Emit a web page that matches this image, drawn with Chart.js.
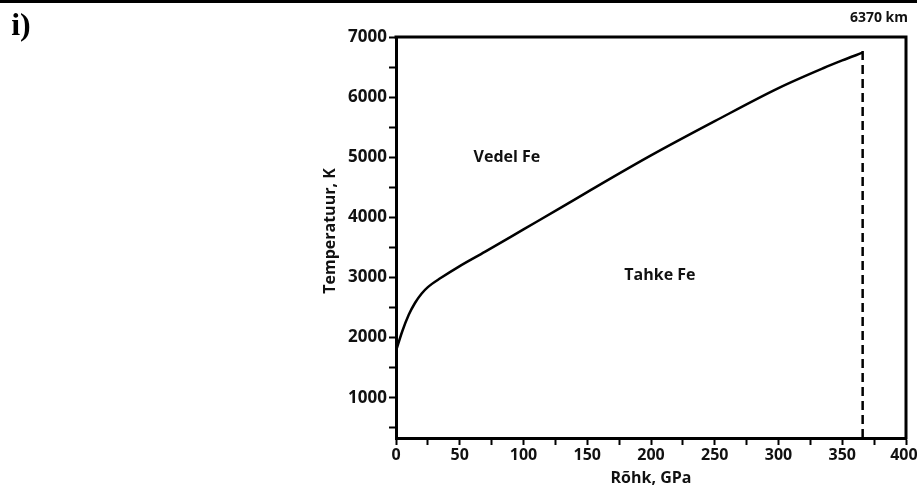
<!DOCTYPE html>
<html>
<head>
<meta charset="utf-8">
<script src="https://cdn.jsdelivr.net/npm/chart.js@4/dist/chart.umd.min.js"></script>
<style>
    html, body { margin: 0; padding: 0; background: #fff; }
    #wrap { width: 917px; height: 495px; }
</style>
</head>
<body>
<div id="wrap"><canvas id="meltChart" width="917" height="495"></canvas></div>
<script>
// melting curve of iron
const pressure = [0, 5, 10, 15, 20, 25, 35, 50, 70, 100, 130, 150, 200, 250, 300, 335, 350, 366];
const temperature = [1780, 2110, 2380, 2580, 2730, 2840, 2990, 3190, 3430, 3800, 4170, 4420, 5030, 5600, 6150, 6480, 6610, 6740];
const coreX = [366, 366];
const coreY = [330, 6850];
const xTicks = [0, 25, 50, 75, 100, 125, 150, 175, 200, 225, 250, 275, 300, 325, 350, 375, 400];
const yTicks = [500, 1000, 1500, 2000, 2500, 3000, 3500, 4000, 4500, 5000, 5500, 6000, 6500, 7000];
const xTitle = "Rõhk, GPa";
const yTitle = "Temperatuur, K";
const phases = [
    { text: "Vedel Fe", x: 87, y: 4990 },
    { text: "Tahke Fe", x: 207, y: 3030 },
];
const depthLabel = "6370 km";
const panelLabel = "i)";

const ink = "#111";
const bold = "'Open Sans', sans-serif";

const extras = {
    id: "extras",
    afterDraw(chart) {
        const ctx = chart.ctx;
        const { top, right, left, bottom } = chart.chartArea;
        const xs = chart.scales.x;
        const ys = chart.scales.y;
        ctx.save();
        // rule across the top of the page
        ctx.fillStyle = "#000";
        ctx.fillRect(0, 0, 917, 3);
        // box: top and right side
        ctx.strokeStyle = "#000";
        ctx.lineWidth = 3;
        ctx.beginPath();
        ctx.moveTo(left - 1.5, top);
        ctx.lineTo(right, top);
        ctx.lineTo(right, bottom + 1.5);
        ctx.stroke();

        ctx.fillStyle = ink;
        ctx.textAlign = "center";
        ctx.textBaseline = "middle";
        ctx.font = "bold 16px " + bold;
        phases.forEach((p) => {
            ctx.fillText(p.text, xs.getPixelForValue(p.x), ys.getPixelForValue(p.y));
        });
        ctx.fillText(xTitle, 651, 478);

        ctx.save();
        ctx.translate(330, 231);
        ctx.rotate(-Math.PI / 2);
        ctx.fillText(yTitle, 0, 0);
        ctx.restore();

        ctx.font = "bold 14px " + bold;
        ctx.fillText(depthLabel, 879, 18);

        ctx.font = "bold 32px 'Liberation Serif', serif";
        ctx.fillStyle = "#000";
        ctx.fillText(panelLabel, 21, 27);
        ctx.restore();
    },
};

new Chart(document.getElementById("meltChart"), {
    type: "line",
    data: {
        datasets: [
            {
                data: pressure.map((p, i) => ({ x: p, y: temperature[i] })),
                borderColor: "#000",
                borderWidth: 2.5,
                pointRadius: 0,
                cubicInterpolationMode: "monotone",
                fill: false,
            },
            {
                data: coreX.map((p, i) => ({ x: p, y: coreY[i] })),
                borderColor: "#000",
                borderWidth: 2.5,
                borderDash: [9, 5],
                pointRadius: 0,
                fill: false,
            },
        ],
    },
    options: {
        responsive: false,
        animation: false,
        events: [],
        layout: { padding: { top: 37, right: 11, left: 0, bottom: 0 } },
        plugins: {
            legend: { display: false },
            tooltip: { enabled: false },
        },
        scales: {
            x: {
                type: "linear",
                min: 0,
                max: 400,
                afterBuildTicks: (s) => {
                    s.ticks = xTicks.map((v) => ({ value: v }));
                },
                afterFit: (s) => {
                    s.height = 57;
                    s.paddingLeft = 0;
                    s.paddingRight = 11;
                },
                border: { display: true, color: "#000", width: 3 },
                grid: {
                    drawOnChartArea: false,
                    drawTicks: true,
                    tickLength: 7,
                    tickColor: "#000",
                    tickWidth: 2,
                },
                ticks: {
                    autoSkip: false,
                    maxRotation: 0,
                    padding: 1,
                    color: ink,
                    font: { family: bold, size: 16, weight: "bold" },
                    // last label nudged left so it stays inside the page
                    callback: (v) => (v === 400 ? "400 " : v % 50 === 0 ? v : ""),
                },
            },
            y: {
                type: "linear",
                min: 330,
                max: 7000,
                afterBuildTicks: (s) => {
                    s.ticks = yTicks.map((v) => ({ value: v }));
                },
                afterFit: (s) => {
                    s.width = 396;
                },
                border: { display: true, color: "#000", width: 3 },
                grid: {
                    drawOnChartArea: false,
                    drawTicks: true,
                    tickLength: 7,
                    tickColor: "#000",
                    tickWidth: 2,
                },
                ticks: {
                    autoSkip: false,
                    padding: 2,
                    color: ink,
                    font: { family: bold, size: 17, weight: "bold" },
                    callback: (v) => (v % 1000 === 0 ? v : ""),
                },
            },
        },
    },
    plugins: [extras],
});
</script>
</body>
</html>
